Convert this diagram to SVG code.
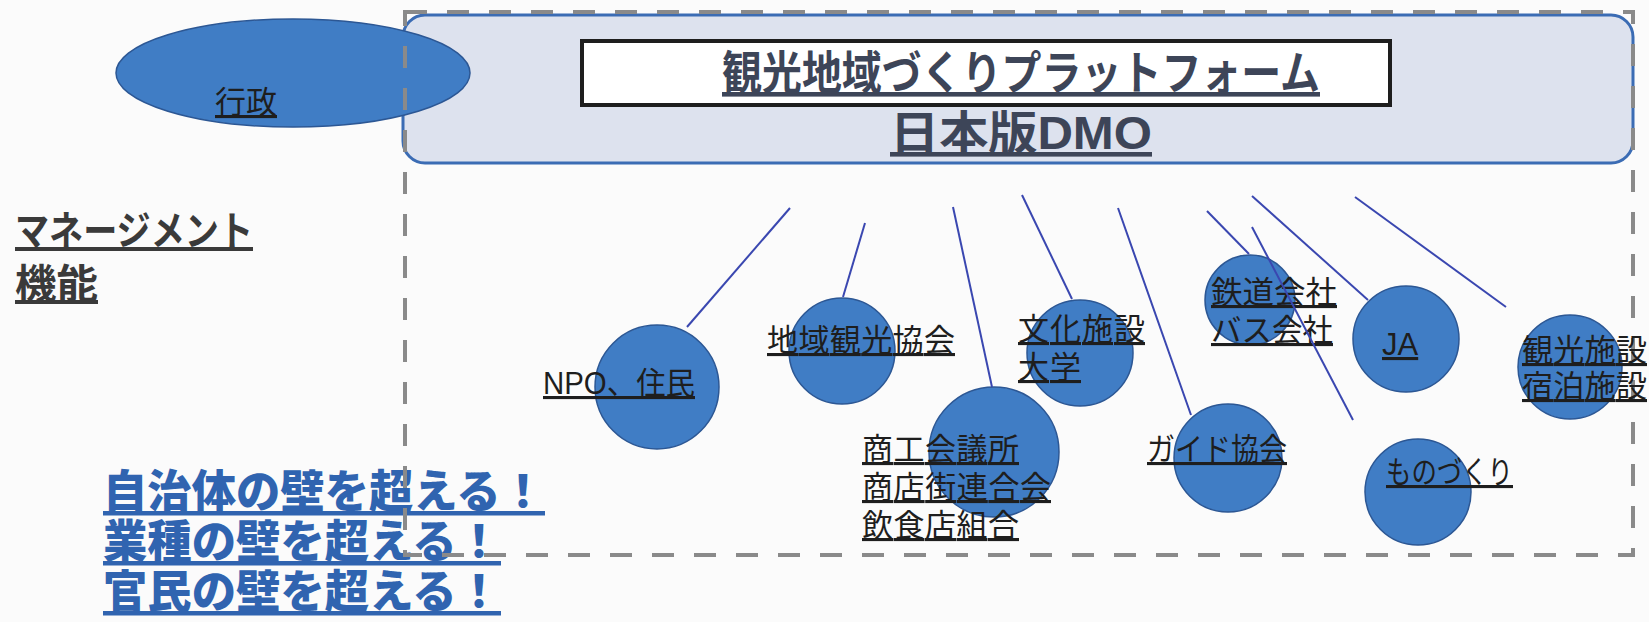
<svg xmlns="http://www.w3.org/2000/svg" width="1649" height="622" viewBox="0 0 1649 622">
<style>
.bg{fill:#fbfbfb}
.panel{fill:#dde2ee;stroke:#3b6cb4;stroke-width:3}
.titlebox{fill:#ffffff;stroke:#1e1e1e;stroke-width:4}
.title{font-family:"Liberation Sans","Noto Sans CJK JP",sans-serif;font-weight:bold;font-size:46px;fill:#3d4558;text-decoration:underline}
.node{fill:#407dc5;stroke:#2c5794;stroke-width:1.5}
.lbl{font-family:"Liberation Sans","Noto Sans CJK JP",sans-serif;font-size:31px;fill:#1e1e1e;text-decoration:underline}
.head{font-family:"Noto Sans CJK JP",sans-serif;font-weight:bold;font-size:40px;fill:#3a3a3a;text-decoration:underline}
.slogan{font-family:"Noto Sans CJK JP",sans-serif;font-weight:900;font-size:45px;fill:#3064b0;text-decoration:underline}
.conn{stroke:#3a47b0;stroke-width:2;fill:none}
.frame{fill:none;stroke:#8a8a8a;stroke-width:4;stroke-dasharray:22 20}
</style>
<rect class="bg" x="0" y="0" width="1649" height="622"/>

<g id="platform">
  <rect class="panel" x="403" y="15" width="1230" height="148" rx="22"/>
  <rect class="titlebox" x="582" y="41" width="808" height="64"/>
  <text class="title" x="722" y="89" textLength="598" lengthAdjust="spacingAndGlyphs">観光地域づくりプラットフォーム</text>
  <text class="title" x="890" y="149" textLength="262" lengthAdjust="spacingAndGlyphs">日本版DMO</text>
</g>

<g id="gyosei">
  <ellipse class="node" cx="293" cy="73" rx="177" ry="54"/>
  <text class="lbl" x="215" y="113" fill="#333">行政</text>
</g>

<g id="management">
  <text class="head" x="15" y="245" textLength="238" lengthAdjust="spacingAndGlyphs">マネージメント</text>
  <text class="head" x="15" y="298" textLength="83" lengthAdjust="spacingAndGlyphs">機能</text>
</g>

<g id="slogans">
  <text class="slogan" x="103" y="508" textLength="442" lengthAdjust="spacingAndGlyphs">自治体の壁を超える！</text>
  <text class="slogan" x="103" y="558" textLength="398" lengthAdjust="spacingAndGlyphs">業種の壁を超える！</text>
  <text class="slogan" x="103" y="608" textLength="398" lengthAdjust="spacingAndGlyphs">官民の壁を超える！</text>
</g>

<rect id="boundary" class="frame" x="405" y="12" width="1228" height="543"/>

<g id="npo">
  <circle class="node" cx="657" cy="387" r="62"/>
  <text class="lbl" x="543" y="394" textLength="152" lengthAdjust="spacingAndGlyphs">NPO、住民</text>
</g>
<g id="chiiki-kanko-kyokai">
  <circle class="node" cx="842" cy="351" r="53"/>
  <text class="lbl" x="767" y="351" textLength="188">地域観光協会</text>
</g>
<g id="shoko">
  <circle class="node" cx="994" cy="452" r="65"/>
  <text class="lbl" x="862" y="460" textLength="157">商工会議所</text>
  <text class="lbl" x="862" y="498" textLength="189">商店街連合会</text>
  <text class="lbl" x="862" y="536" textLength="157">飲食店組合</text>
</g>
<g id="bunka">
  <circle class="node" cx="1080" cy="353" r="53"/>
  <text class="lbl" x="1018" y="340" textLength="127">文化施設</text>
  <text class="lbl" x="1018" y="378" textLength="63">大学</text>
</g>
<g id="guide">
  <circle class="node" cx="1228" cy="458" r="54"/>
  <text class="lbl" x="1147" y="460" textLength="140" lengthAdjust="spacingAndGlyphs">ガイド協会</text>
</g>
<g id="tetsudo">
  <circle class="node" cx="1250" cy="300" r="45"/>
  <text class="lbl" x="1211" y="303" textLength="126" lengthAdjust="spacingAndGlyphs">鉄道会社</text>
  <text class="lbl" x="1211" y="341" textLength="122" lengthAdjust="spacingAndGlyphs">バス会社</text>
</g>
<g id="ja">
  <circle class="node" cx="1406" cy="339" r="53"/>
  <text class="lbl" x="1382" y="355">JA</text>
</g>
<g id="monozukuri">
  <circle class="node" cx="1418" cy="492" r="53"/>
  <text class="lbl" x="1386" y="483" textLength="127" lengthAdjust="spacingAndGlyphs">ものづくり</text>
</g>
<g id="kanko-shisetsu">
  <circle class="node" cx="1570" cy="367" r="52"/>
  <text class="lbl" x="1522" y="361" textLength="125">観光施設</text>
  <text class="lbl" x="1522" y="397" textLength="125">宿泊施設</text>
</g>

<g id="connectors">
  <line class="conn" x1="790" y1="208" x2="687" y2="327"/>
  <line class="conn" x1="865" y1="223" x2="843" y2="297"/>
  <line class="conn" x1="953" y1="207" x2="992" y2="387"/>
  <line class="conn" x1="1022" y1="195" x2="1072" y2="299"/>
  <line class="conn" x1="1118" y1="208" x2="1191" y2="415"/>
  <line class="conn" x1="1207" y1="211" x2="1249" y2="254"/>
  <line class="conn" x1="1252" y1="227" x2="1353" y2="420"/>
  <line class="conn" x1="1252" y1="196" x2="1368" y2="300"/>
  <line class="conn" x1="1355" y1="197" x2="1506" y2="307"/>
</g>
</svg>
